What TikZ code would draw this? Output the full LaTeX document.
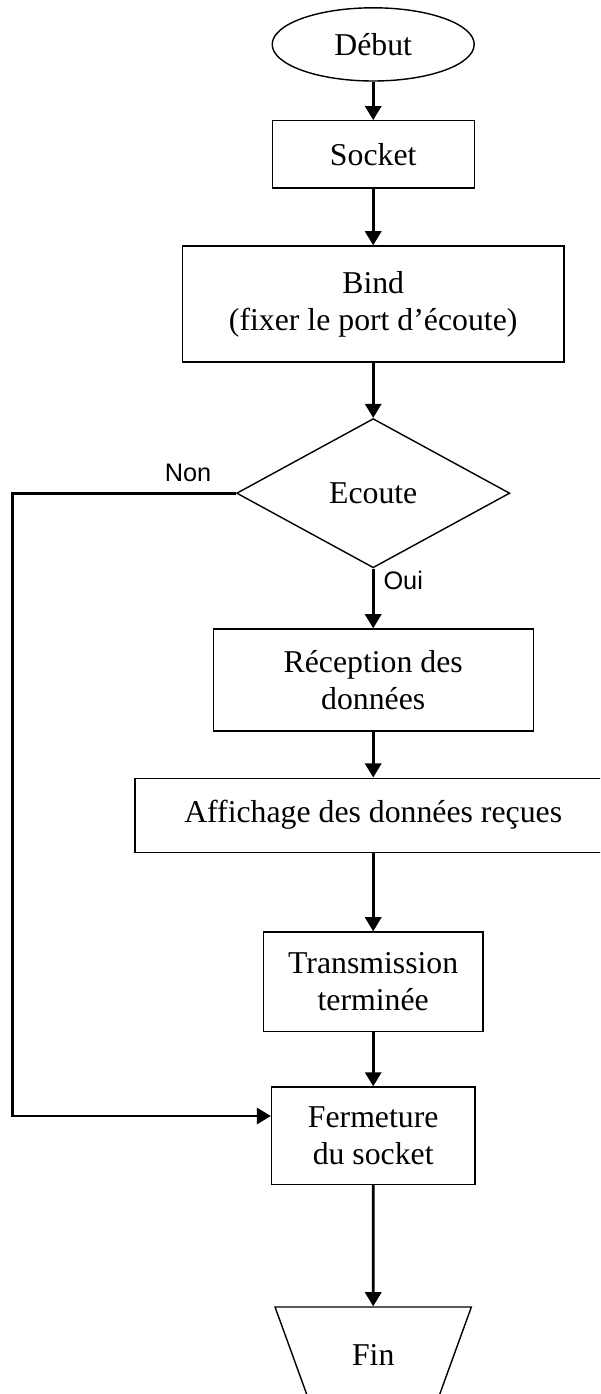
\documentclass[tikz,border=0pt]{standalone}
\usepackage{fontspec}
\setmainfont{Liberation Serif}
\newfontfamily\etiqfont{Liberation Sans}
\usetikzlibrary{shapes.geometric,arrows.meta}

\begin{document}
\begin{tikzpicture}[
  >={Triangle[length=10pt,width=11.5pt]},
  bloc/.style={draw, line width=1pt, align=center, inner sep=0pt},
  fleche/.style={->, line width=1.9pt},
  etiq/.style={font=\etiqfont\fontsize{18}{21}\selectfont},
  font=\fontsize{22.6}{26.3}\selectfont]

  \clip (0,0) rectangle (15,-34.85);

  \node[bloc, ellipse, minimum width=5.05cm, minimum height=1.83cm] (debut) at (9.33,-1.11) {Début};
  \node[bloc, minimum width=5.05cm, minimum height=1.68cm] (socket) at (9.33,-3.86) {Socket};
  \node[bloc, minimum width=9.53cm, minimum height=2.9cm] (bind) at (9.33,-7.6) {Bind\\ (fixer le port d’écoute)};
  \node[bloc, diamond, minimum width=6.83cm, minimum height=3.73cm] (ecoute) at (9.33,-12.33) {Ecoute};
  \node[bloc, minimum width=8cm, minimum height=2.55cm] (reception) at (9.33,-17) {Réception des\\ données};
  \node[bloc, minimum width=11.91cm, minimum height=1.85cm] (affichage) at (9.33,-20.38) {Affichage des données reçues};
  \node[bloc, minimum width=5.48cm, minimum height=2.48cm] (transmission) at (9.33,-24.54) {Transmission\\ terminée};
  \node[bloc, minimum width=5.08cm, minimum height=2.43cm] (fermeture) at (9.33,-28.39) {Fermeture\\ du socket};
  \node[bloc, trapezium, shape border rotate=180, trapezium angle=61, trapezium stretches=true,
        minimum width=4.93cm, minimum height=2.4cm] (fin) at (9.33,-33.875) {Fin};

  \node[etiq] (non) at (4.7,-11.83) {Non};
  \node[etiq] (oui) at (10.08,-14.5) {Oui};

  \draw[fleche] (debut.south) -- (socket.north);
  \draw[fleche] (socket.south) -- (bind.north);
  \draw[fleche] (bind.south) -- (ecoute.north);
  \draw[fleche] (ecoute.south) -- (reception.north);
  \draw[fleche] (reception.south) -- (affichage.north);
  \draw[fleche] (affichage.south) -- (transmission.north);
  \draw[fleche] (transmission.south) -- (fermeture.north);
  \draw[fleche] (fermeture.south) -- (fin.north);

  % retour si pas d'ecoute
  \draw[fleche] (ecoute.west) -- ++(-5.59,0) |- ([yshift=0.49cm]fermeture.west);

\end{tikzpicture}
\end{document}
